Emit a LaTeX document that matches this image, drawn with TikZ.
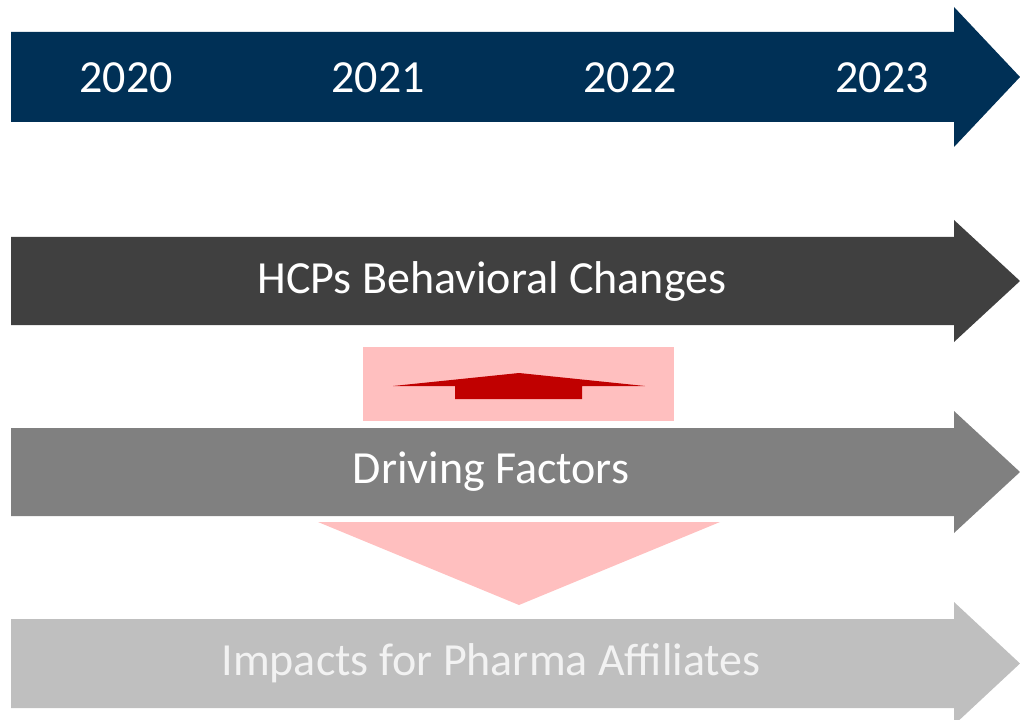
\documentclass[tikz,border=0pt]{standalone}
\usepackage{fontspec}
\setmainfont{Carlito}
\definecolor{navyband}{RGB}{0,48,86}
\definecolor{darkband}{RGB}{64,64,64}
\definecolor{midband}{RGB}{128,128,128}
\definecolor{lightband}{RGB}{191,191,191}
\definecolor{pinkfill}{RGB}{255,191,191}
\definecolor{redfill}{RGB}{192,0,0}

\begin{document}
\begin{tikzpicture}[
  x=0.75pt, y=-0.75pt,
  year/.style={text=white, font=\fontsize{34.5}{40}\selectfont},
  label/.style={text=white, font=\fontsize{34.5}{40}\selectfont},
]
  \useasboundingbox (0,0) rectangle (1020,720);

  % bands: top/bottom of body, overhang of head, colour
  \foreach \top/\bot/\over/\clr in {32/122/25/navyband, 237/325/17/darkband,
                                    428/516/17/midband, 619/708/17/lightband}{
    \fill[\clr] (11,\top) -- (954,\top) -- (954,\top-\over)
      -- (1020,{(\top+\bot)/2}) -- (954,\bot+\over) -- (954,\bot)
      -- (11,\bot) -- cycle;
  }

  % years
  \node[year] (y2020) at (126,78) {2020};
  \node[year] (y2021) at (378,78) {2021};
  \node[year] (y2022) at (630,78) {2022};
  \node[year] (y2023) at (882,78) {2023};

  \node[label] (hcp) at (492,281) {HCPs Behavioral Changes};
  \node[label] (drv) at (491,472) {Driving Factors};
  \node[label, text={rgb,255:red,242;green,242;blue,242}] (imp) at (491,663)
    {Impacts for Pharma Affiliates};

  % up arrow in pink box
  \fill[pinkfill] (363,347) rectangle (674,421);
  \fill[redfill] (393,386) -- (519,373) -- (645,386) -- (582,386)
    -- (582,399) -- (455,399) -- (455,386) -- cycle;

  % down triangle
  \fill[pinkfill] (318,522) -- (720,522) -- (519,605) -- cycle;
\end{tikzpicture}
\end{document}
